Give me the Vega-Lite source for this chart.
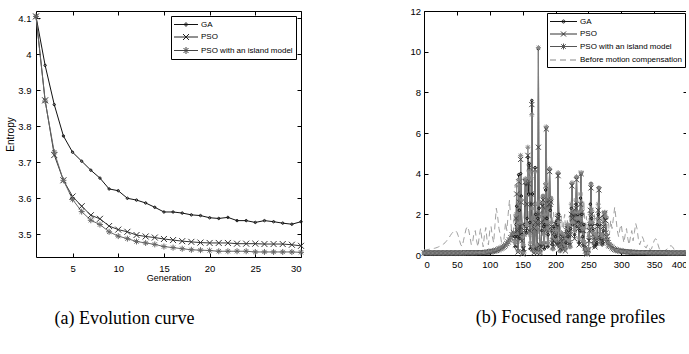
{
"$schema": "https://vega.github.io/schema/vega-lite/v6.json",
"padding": {"left": 5, "top": 5, "right": -7, "bottom": 5},
"bounds": "flush",
"spacing": 123,
"config": {
  "view": {"stroke": "#000", "strokeWidth": 1},
  "axis": {"domain": false, "grid": false, "tickSize": -4, "tickColor": "#000", "tickWidth": 1,
    "labelFont": "Liberation Sans", "labelFontSize": 9.5, "labelColor": "#000",
    "titleFont": "Liberation Sans", "titleFontSize": 9, "titleFontWeight": "normal", "titleColor": "#000"},
  "legend": {"labelFont": "Liberation Sans", "labelFontSize": 8, "labelColor": "#000",
    "padding": 3, "rowPadding": 2.5, "symbolStrokeWidth": 1, "strokeColor": "#000", "fillColor": "#fff", "cornerRadius": 0,
    "symbolSize": 100, "orient": "top-right"}
},
"hconcat": [
{
  "width": 265, "height": 246,
  "title": {"text": "(a) Evolution curve", "orient": "bottom", "offset": 27, "dx": -44, "font": "Liberation Serif", "fontSize": 18, "fontWeight": "normal", "color": "#000"},
  "data": {"values": [
    {"x":1,"g":4.105,"p":4.105,"i":4.105},
    {"x":2,"g":3.969,"p":3.872,"i":3.870},
    {"x":3,"g":3.860,"p":3.720,"i":3.728},
    {"x":4,"g":3.773,"p":3.650,"i":3.650},
    {"x":5,"g":3.728,"p":3.605,"i":3.597},
    {"x":6,"g":3.703,"p":3.578,"i":3.563},
    {"x":7,"g":3.678,"p":3.553,"i":3.539},
    {"x":8,"g":3.656,"p":3.543,"i":3.527},
    {"x":9,"g":3.626,"p":3.523,"i":3.507},
    {"x":10,"g":3.621,"p":3.513,"i":3.495},
    {"x":11,"g":3.600,"p":3.507,"i":3.488},
    {"x":12,"g":3.595,"p":3.498,"i":3.480},
    {"x":13,"g":3.587,"p":3.494,"i":3.476},
    {"x":14,"g":3.575,"p":3.491,"i":3.472},
    {"x":15,"g":3.562,"p":3.487,"i":3.466},
    {"x":16,"g":3.562,"p":3.484,"i":3.463},
    {"x":17,"g":3.559,"p":3.481,"i":3.460},
    {"x":18,"g":3.554,"p":3.479,"i":3.457},
    {"x":19,"g":3.552,"p":3.477,"i":3.456},
    {"x":20,"g":3.546,"p":3.476,"i":3.455},
    {"x":21,"g":3.544,"p":3.476,"i":3.453},
    {"x":22,"g":3.547,"p":3.476,"i":3.453},
    {"x":23,"g":3.538,"p":3.474,"i":3.453},
    {"x":24,"g":3.538,"p":3.474,"i":3.453},
    {"x":25,"g":3.533,"p":3.474,"i":3.451},
    {"x":26,"g":3.538,"p":3.473,"i":3.451},
    {"x":27,"g":3.535,"p":3.473,"i":3.451},
    {"x":28,"g":3.531,"p":3.473,"i":3.451},
    {"x":29,"g":3.528,"p":3.471,"i":3.451},
    {"x":30,"g":3.535,"p":3.468,"i":3.450}
  ]},
  "transform": [{"fold": ["g","p","i"], "as": ["s","v"]}],
  "layer": [
    {"mark": {"type": "line", "strokeWidth": 1},
     "encoding": {
       "x": {"field": "x", "type": "quantitative", "scale": {"domain": [1,30], "nice": false, "zero": false},
             "axis": {"orient": "bottom", "values": [5,10,15,20,25,30], "title": "Generation", "labelPadding": 10, "titlePadding": 1}},
       "y": {"field": "v", "type": "quantitative", "scale": {"domain": [3.437,4.12], "nice": false, "zero": false},
             "axis": {"orient": "left", "values": [3.5,3.6,3.7,3.8,3.9,4,4.1], "format": "~g", "title": "Entropy", "titleFontSize": 10, "labelPadding": 9, "titlePadding": 2}},
       "color": {"field": "s", "type": "nominal", "scale": {"domain": ["g","p","i"], "range": ["#111","#333","#666"]}, "legend": null}
     }},
    {"mark": {"type": "point", "filled": false, "strokeWidth": 1, "opacity": 1, "size": 36},
     "encoding": {
       "x": {"field": "x", "type": "quantitative", "axis": null},
       "y": {"field": "v", "type": "quantitative", "axis": null},
       "color": {"field": "s", "type": "nominal", "scale": {"domain": ["g","p","i"], "range": ["#111","#333","#666"]}, "legend": null},
       "shape": {"field": "s", "type": "nominal", "scale": {"domain": ["g","p","i"], "range": [
          "M-0.4,0a0.4,0.4 0 1,0 0.8,0a0.4,0.4 0 1,0 -0.8,0",
          "M-1,-1L1,1M-1,1L1,-1",
          "M-1,0H1M0,-1V1M-0.7,-0.7L0.7,0.7M-0.7,0.7L0.7,-0.7"]}, "legend": null}
     }},
    {"transform": [{"filter": "false"}],
     "mark": {"type": "point", "filled": false, "strokeWidth": 1, "opacity": 1},
     "encoding": {
       "x": {"field": "x", "type": "quantitative", "axis": {"orient": "top", "values": [5,10,15,20,25,30], "labels": false, "title": null}},
       "y": {"field": "v", "type": "quantitative", "axis": {"orient": "right", "values": [3.5,3.6,3.7,3.8,3.9,4,4.1], "labels": false, "title": null}},
       "color": {"field": "s", "type": "nominal", "scale": {"domain": ["g","p","i"], "range": ["#111","#222","#444"]},
          "legend": {"title": null, "offset": 5, "labelOffset": 16, "symbolSize": 100,
             "labelExpr": "datum.label == 'g' ? 'GA' : datum.label == 'p' ? 'PSO' : 'PSO with an island model'"}},
       "shape": {"field": "s", "type": "nominal", "scale": {"domain": ["g","p","i"], "range": [
          "M-1.1,0H3.7M1.0,0a0.3,0.3 0 1,0 0.6,0a0.3,0.3 0 1,0 -0.6,0",
          "M-1.1,0H3.7M0.7,-0.6L1.9,0.6M0.7,0.6L1.9,-0.6",
          "M-1.1,0H3.7M1.3,-0.7V0.7M0.8,-0.5L1.8,0.5M0.8,0.5L1.8,-0.5"]},
          "legend": {"title": null, "offset": 5, "labelOffset": 16, "symbolSize": 100,
             "labelExpr": "datum.label == 'g' ? 'GA' : datum.label == 'p' ? 'PSO' : 'PSO with an island model'"}}
     }}
  ],
  "resolve": {"scale": {"color": "independent", "shape": "independent"}, "axis": {"x": "independent", "y": "independent"}}
},
{
  "width": 263, "height": 244,
  "title": {"text": "(b) Focused range profiles", "orient": "bottom", "offset": 40, "dx": 15, "font": "Liberation Serif", "fontSize": 18, "fontWeight": "normal", "color": "#000"},
  "data": {"values": [
    {"x":0,"g":0.10,"p":0.10,"i":0.10,"b":0.25},
    {"x":2,"g":0.10,"p":0.10,"i":0.10,"b":0.25},
    {"x":4,"g":0.10,"p":0.10,"i":0.10,"b":0.26},
    {"x":6,"g":0.10,"p":0.10,"i":0.10,"b":0.27},
    {"x":8,"g":0.10,"p":0.10,"i":0.10,"b":0.28},
    {"x":10,"g":0.10,"p":0.10,"i":0.10,"b":0.30},
    {"x":12,"g":0.10,"p":0.10,"i":0.10,"b":0.30},
    {"x":14,"g":0.10,"p":0.10,"i":0.10,"b":0.32},
    {"x":16,"g":0.10,"p":0.10,"i":0.10,"b":0.33},
    {"x":18,"g":0.10,"p":0.10,"i":0.10,"b":0.35},
    {"x":20,"g":0.10,"p":0.10,"i":0.10,"b":0.37},
    {"x":22,"g":0.10,"p":0.10,"i":0.10,"b":0.40},
    {"x":24,"g":0.10,"p":0.10,"i":0.10,"b":0.43},
    {"x":26,"g":0.10,"p":0.10,"i":0.10,"b":0.45},
    {"x":28,"g":0.10,"p":0.10,"i":0.10,"b":0.50},
    {"x":30,"g":0.10,"p":0.10,"i":0.10,"b":0.55},
    {"x":32,"g":0.10,"p":0.10,"i":0.10,"b":0.60},
    {"x":34,"g":0.10,"p":0.10,"i":0.10,"b":0.68},
    {"x":36,"g":0.10,"p":0.10,"i":0.10,"b":0.76},
    {"x":38,"g":0.10,"p":0.10,"i":0.10,"b":0.85},
    {"x":40,"g":0.10,"p":0.10,"i":0.10,"b":0.95},
    {"x":42,"g":0.10,"p":0.10,"i":0.10,"b":1.05},
    {"x":44,"g":0.10,"p":0.10,"i":0.10,"b":1.12},
    {"x":46,"g":0.10,"p":0.10,"i":0.10,"b":1.18},
    {"x":48,"g":0.10,"p":0.10,"i":0.10,"b":1.20},
    {"x":50,"g":0.10,"p":0.10,"i":0.10,"b":1.12},
    {"x":52,"g":0.10,"p":0.10,"i":0.10,"b":0.95},
    {"x":54,"g":0.10,"p":0.10,"i":0.10,"b":0.72},
    {"x":56,"g":0.10,"p":0.10,"i":0.10,"b":0.50},
    {"x":58,"g":0.10,"p":0.10,"i":0.10,"b":0.42},
    {"x":60,"g":0.10,"p":0.10,"i":0.10,"b":0.70},
    {"x":62,"g":0.11,"p":0.11,"i":0.11,"b":1.00},
    {"x":64,"g":0.11,"p":0.11,"i":0.11,"b":1.28},
    {"x":66,"g":0.11,"p":0.11,"i":0.11,"b":1.40},
    {"x":68,"g":0.11,"p":0.11,"i":0.11,"b":1.22},
    {"x":70,"g":0.11,"p":0.11,"i":0.11,"b":0.88},
    {"x":72,"g":0.11,"p":0.11,"i":0.11,"b":0.50},
    {"x":74,"g":0.11,"p":0.11,"i":0.11,"b":0.62},
    {"x":76,"g":0.11,"p":0.11,"i":0.11,"b":1.10},
    {"x":78,"g":0.11,"p":0.11,"i":0.11,"b":1.20},
    {"x":80,"g":0.11,"p":0.11,"i":0.11,"b":0.70},
    {"x":82,"g":0.12,"p":0.12,"i":0.12,"b":0.40},
    {"x":84,"g":0.12,"p":0.12,"i":0.12,"b":0.90},
    {"x":86,"g":0.12,"p":0.12,"i":0.12,"b":1.30},
    {"x":88,"g":0.12,"p":0.12,"i":0.12,"b":0.80},
    {"x":90,"g":0.12,"p":0.12,"i":0.12,"b":0.40},
    {"x":92,"g":0.12,"p":0.12,"i":0.12,"b":1.00},
    {"x":94,"g":0.13,"p":0.13,"i":0.13,"b":1.35},
    {"x":96,"g":0.14,"p":0.14,"i":0.14,"b":0.70},
    {"x":98,"g":0.15,"p":0.15,"i":0.15,"b":0.50},
    {"x":100,"g":0.16,"p":0.16,"i":0.16,"b":1.20},
    {"x":102,"g":0.17,"p":0.17,"i":0.17,"b":1.40},
    {"x":104,"g":0.18,"p":0.18,"i":0.18,"b":0.90},
    {"x":106,"g":0.19,"p":0.19,"i":0.19,"b":0.60},
    {"x":108,"g":0.21,"p":0.21,"i":0.21,"b":1.50},
    {"x":110,"g":0.23,"p":0.23,"i":0.23,"b":2.30},
    {"x":112,"g":0.25,"p":0.25,"i":0.25,"b":1.90},
    {"x":114,"g":0.28,"p":0.28,"i":0.28,"b":1.30},
    {"x":116,"g":0.31,"p":0.31,"i":0.31,"b":1.00},
    {"x":118,"g":0.34,"p":0.34,"i":0.34,"b":0.60},
    {"x":120,"g":0.38,"p":0.38,"i":0.38,"b":0.35},
    {"x":122,"g":0.43,"p":0.43,"i":0.43,"b":0.90},
    {"x":124,"g":0.49,"p":0.49,"i":0.49,"b":1.60},
    {"x":126,"g":0.56,"p":0.56,"i":0.56,"b":1.20},
    {"x":128,"g":0.64,"p":0.64,"i":0.64,"b":2.00},
    {"x":130,"g":0.74,"p":0.74,"i":0.74,"b":2.70},
    {"x":132,"g":0.86,"p":0.86,"i":0.86,"b":1.70},
    {"x":134,"g":1.00,"p":1.00,"i":1.00,"b":0.80},
    {"x":136,"g":1.1,"p":1.1,"i":1.1,"b":1.2},
    {"x":137,"g":1.0,"p":1.05,"i":1.0,"b":1.8},
    {"x":138,"g":0.9,"p":0.8,"i":0.7,"b":2.0},
    {"x":139,"g":0.4,"p":0.5,"i":0.6,"b":1.3},
    {"x":140,"g":1.5,"p":1.8,"i":2.0,"b":0.7},
    {"x":141,"g":2.4,"p":3.0,"i":3.4,"b":1.0},
    {"x":142,"g":0.9,"p":1.2,"i":1.5,"b":1.6},
    {"x":143,"g":0.2,"p":0.15,"i":0.2,"b":1.9},
    {"x":144,"g":3.95,"p":3.6,"i":3.7,"b":1.2},
    {"x":145,"g":2.2,"p":2.6,"i":2.5,"b":0.6},
    {"x":146,"g":0.8,"p":1.4,"i":1.6,"b":0.9},
    {"x":147,"g":4.0,"p":4.7,"i":4.9,"b":1.5},
    {"x":148,"g":2.9,"p":2.6,"i":2.7,"b":2.0},
    {"x":149,"g":1.0,"p":0.7,"i":0.9,"b":1.4},
    {"x":150,"g":0.1,"p":0.05,"i":0.15,"b":0.8},
    {"x":151,"g":0.4,"p":0.3,"i":0.5,"b":1.2},
    {"x":152,"g":0.2,"p":0.1,"i":0.1,"b":1.8},
    {"x":153,"g":1.5,"p":1.2,"i":1.0,"b":2.2},
    {"x":154,"g":3.7,"p":3.6,"i":3.75,"b":1.5},
    {"x":155,"g":3.5,"p":3.6,"i":3.6,"b":0.9},
    {"x":156,"g":1.1,"p":1.3,"i":1.5,"b":1.3},
    {"x":157,"g":1.8,"p":2.5,"i":3.0,"b":2.0},
    {"x":158,"g":4.8,"p":4.9,"i":5.3,"b":2.4},
    {"x":159,"g":3.0,"p":3.5,"i":3.8,"b":1.6},
    {"x":160,"g":4.5,"p":4.3,"i":4.1,"b":1.0},
    {"x":161,"g":1.6,"p":1.2,"i":1.0,"b":1.5},
    {"x":162,"g":0.3,"p":0.4,"i":0.6,"b":2.2},
    {"x":163,"g":2.5,"p":3.0,"i":3.8,"b":2.5},
    {"x":164,"g":7.6,"p":7.4,"i":6.9,"b":1.7},
    {"x":165,"g":3.0,"p":2.5,"i":2.3,"b":1.0},
    {"x":166,"g":0.2,"p":0.3,"i":0.4,"b":1.4},
    {"x":167,"g":0.15,"p":0.1,"i":0.2,"b":2.0},
    {"x":168,"g":1.5,"p":1.3,"i":1.6,"b":2.3},
    {"x":169,"g":4.3,"p":4.2,"i":4.1,"b":1.5},
    {"x":170,"g":2.0,"p":1.6,"i":1.4,"b":0.9},
    {"x":171,"g":0.3,"p":0.4,"i":0.5,"b":1.3},
    {"x":172,"g":0.2,"p":0.1,"i":0.15,"b":1.9},
    {"x":173,"g":1.8,"p":1.5,"i":2.5,"b":2.1},
    {"x":174,"g":10.15,"p":5.3,"i":10.2,"b":1.4},
    {"x":175,"g":2.3,"p":2.0,"i":2.6,"b":0.8},
    {"x":176,"g":0.4,"p":0.5,"i":0.3,"b":1.2},
    {"x":177,"g":0.2,"p":0.1,"i":0.15,"b":1.8},
    {"x":178,"g":0.5,"p":0.4,"i":0.6,"b":2.2},
    {"x":179,"g":1.2,"p":1.6,"i":1.9,"b":1.6},
    {"x":180,"g":2.5,"p":2.4,"i":2.6,"b":1.0},
    {"x":181,"g":2.9,"p":2.7,"i":2.9,"b":1.4},
    {"x":182,"g":1.4,"p":1.1,"i":1.0,"b":2.0},
    {"x":183,"g":0.3,"p":0.5,"i":0.6,"b":2.4},
    {"x":184,"g":1.5,"p":1.8,"i":2.0,"b":1.7},
    {"x":185,"g":3.2,"p":3.4,"i":3.5,"b":1.1},
    {"x":186,"g":6.25,"p":6.2,"i":6.3,"b":1.6},
    {"x":187,"g":1.8,"p":1.5,"i":1.6,"b":2.3},
    {"x":188,"g":0.4,"p":0.5,"i":0.6,"b":2.8},
    {"x":189,"g":1.0,"p":1.2,"i":1.3,"b":1.9},
    {"x":190,"g":2.6,"p":2.5,"i":2.2,"b":1.2},
    {"x":191,"g":4.2,"p":4.1,"i":4.25,"b":1.5},
    {"x":192,"g":2.2,"p":2.5,"i":2.6,"b":2.0},
    {"x":193,"g":2.8,"p":2.6,"i":2.8,"b":1.7},
    {"x":194,"g":1.2,"p":1.4,"i":1.6,"b":1.1},
    {"x":195,"g":0.5,"p":0.6,"i":0.8,"b":1.4},
    {"x":196,"g":0.3,"p":0.4,"i":0.3,"b":1.9},
    {"x":197,"g":0.8,"p":0.7,"i":0.9,"b":2.1},
    {"x":198,"g":1.4,"p":1.1,"i":1.2,"b":1.5},
    {"x":199,"g":0.7,"p":0.9,"i":0.8,"b":0.9},
    {"x":200,"g":0.9,"p":1.2,"i":1.5,"b":1.3},
    {"x":201,"g":1.6,"p":1.5,"i":1.2,"b":1.8},
    {"x":202,"g":0.6,"p":0.5,"i":0.7,"b":1.6},
    {"x":203,"g":1.5,"p":1.8,"i":2.0,"b":1.0},
    {"x":204,"g":4.0,"p":3.9,"i":4.05,"b":1.5},
    {"x":205,"g":2.0,"p":1.8,"i":1.6,"b":2.0},
    {"x":206,"g":0.5,"p":0.6,"i":0.4,"b":1.7},
    {"x":207,"g":0.2,"p":0.3,"i":0.2,"b":1.1},
    {"x":208,"g":0.6,"p":0.5,"i":0.7,"b":1.4},
    {"x":209,"g":1.0,"p":0.8,"i":1.1,"b":1.9},
    {"x":210,"g":0.6,"p":0.4,"i":0.5,"b":1.6},
    {"x":211,"g":0.3,"p":0.3,"i":0.4,"b":1.0},
    {"x":212,"g":0.5,"p":0.6,"i":0.6,"b":1.3},
    {"x":213,"g":0.9,"p":0.8,"i":1.0,"b":1.8},
    {"x":214,"g":0.4,"p":0.5,"i":0.5,"b":2.0},
    {"x":215,"g":0.3,"p":0.2,"i":0.3,"b":1.4},
    {"x":216,"g":0.6,"p":0.7,"i":0.8,"b":0.9},
    {"x":217,"g":1.1,"p":1.2,"i":1.3,"b":1.3},
    {"x":218,"g":1.4,"p":1.3,"i":1.5,"b":1.7},
    {"x":219,"g":0.9,"p":1.0,"i":1.1,"b":1.5},
    {"x":220,"g":1.2,"p":1.0,"i":1.3,"b":1.0},
    {"x":221,"g":0.5,"p":0.6,"i":0.7,"b":1.4},
    {"x":222,"g":0.4,"p":0.5,"i":0.4,"b":1.9},
    {"x":223,"g":1.3,"p":1.0,"i":1.5,"b":1.6},
    {"x":224,"g":2.3,"p":2.0,"i":2.5,"b":1.1},
    {"x":225,"g":3.5,"p":3.4,"i":3.55,"b":1.5},
    {"x":226,"g":1.5,"p":1.8,"i":1.6,"b":2.0},
    {"x":227,"g":2.0,"p":2.1,"i":2.2,"b":1.8},
    {"x":228,"g":2.05,"p":2.0,"i":2.1,"b":1.2},
    {"x":229,"g":1.0,"p":0.8,"i":1.2,"b":1.6},
    {"x":230,"g":2.1,"p":2.0,"i":2.1,"b":2.1},
    {"x":231,"g":2.5,"p":2.3,"i":2.7,"b":1.7},
    {"x":232,"g":3.8,"p":3.7,"i":3.85,"b":1.1},
    {"x":233,"g":1.4,"p":1.6,"i":1.8,"b":1.5},
    {"x":234,"g":2.0,"p":2.1,"i":2.1,"b":2.0},
    {"x":235,"g":1.6,"p":1.3,"i":1.5,"b":1.6},
    {"x":236,"g":0.6,"p":0.5,"i":0.8,"b":1.0},
    {"x":237,"g":1.2,"p":1.5,"i":1.8,"b":1.4},
    {"x":238,"g":2.8,"p":2.5,"i":3.0,"b":2.0},
    {"x":239,"g":4.0,"p":4.0,"i":4.05,"b":2.2},
    {"x":240,"g":2.0,"p":2.1,"i":2.2,"b":1.5},
    {"x":241,"g":0.9,"p":1.2,"i":1.3,"b":1.0},
    {"x":242,"g":0.5,"p":0.6,"i":0.7,"b":1.8},
    {"x":243,"g":1.5,"p":1.2,"i":1.3,"b":2.7},
    {"x":244,"g":0.4,"p":0.5,"i":0.6,"b":2.0},
    {"x":245,"g":0.3,"p":0.35,"i":0.3,"b":1.2},
    {"x":246,"g":0.15,"p":0.2,"i":0.2,"b":1.5},
    {"x":247,"g":0.05,"p":0.1,"i":0.08,"b":1.9},
    {"x":248,"g":0.03,"p":0.05,"i":0.05,"b":1.4},
    {"x":249,"g":0.1,"p":0.08,"i":0.1,"b":0.9},
    {"x":250,"g":0.3,"p":0.25,"i":0.3,"b":1.3},
    {"x":251,"g":0.8,"p":0.7,"i":0.9,"b":1.8},
    {"x":252,"g":1.5,"p":1.2,"i":1.6,"b":1.5},
    {"x":253,"g":2.5,"p":2.2,"i":2.0,"b":1.0},
    {"x":254,"g":3.5,"p":3.3,"i":3.5,"b":1.4},
    {"x":255,"g":1.8,"p":2.0,"i":2.2,"b":1.9},
    {"x":256,"g":1.5,"p":1.4,"i":1.6,"b":1.7},
    {"x":257,"g":1.2,"p":1.0,"i":1.1,"b":1.1},
    {"x":258,"g":0.6,"p":0.7,"i":0.8,"b":1.5},
    {"x":259,"g":0.4,"p":0.5,"i":0.5,"b":2.0},
    {"x":260,"g":0.5,"p":0.4,"i":0.6,"b":1.6},
    {"x":261,"g":0.8,"p":0.9,"i":1.0,"b":1.0},
    {"x":262,"g":0.5,"p":0.6,"i":0.7,"b":1.4},
    {"x":263,"g":0.6,"p":0.8,"i":0.9,"b":1.9},
    {"x":264,"g":1.5,"p":1.4,"i":1.8,"b":1.7},
    {"x":265,"g":2.0,"p":2.2,"i":2.5,"b":1.1},
    {"x":266,"g":3.3,"p":3.2,"i":3.3,"b":1.5},
    {"x":267,"g":1.5,"p":1.8,"i":1.6,"b":2.0},
    {"x":268,"g":0.9,"p":1.0,"i":0.8,"b":1.8},
    {"x":269,"g":0.6,"p":0.7,"i":0.6,"b":1.2},
    {"x":270,"g":0.8,"p":0.9,"i":1.0,"b":1.6},
    {"x":271,"g":0.5,"p":0.6,"i":0.6,"b":2.0},
    {"x":272,"g":0.6,"p":0.7,"i":0.9,"b":1.7},
    {"x":273,"g":1.2,"p":1.4,"i":1.6,"b":1.1},
    {"x":274,"g":1.9,"p":2.0,"i":2.05,"b":1.4},
    {"x":275,"g":2.1,"p":2.05,"i":2.1,"b":1.8},
    {"x":276,"g":1.8,"p":1.7,"i":1.9,"b":1.5},
    {"x":277,"g":1.0,"p":1.1,"i":1.0,"b":1.0},
    {"x":278,"g":0.8,"p":0.9,"i":0.8,"b":1.3},
    {"x":279,"g":0.7,"p":0.75,"i":0.7,"b":1.7},
    {"x":280,"g":0.65,"p":0.6,"i":0.6,"b":1.9},
    {"x":281,"g":0.55,"p":0.5,"i":0.55,"b":1.4},
    {"x":282,"g":0.5,"p":0.45,"i":0.5,"b":1.0},
    {"x":284,"g":0.42,"p":0.42,"i":0.42,"b":1.7},
    {"x":286,"g":0.36,"p":0.36,"i":0.36,"b":1.3},
    {"x":288,"g":0.31,"p":0.31,"i":0.31,"b":1.8},
    {"x":290,"g":0.28,"p":0.28,"i":0.28,"b":2.35},
    {"x":292,"g":0.25,"p":0.25,"i":0.25,"b":1.8},
    {"x":294,"g":0.23,"p":0.23,"i":0.23,"b":1.2},
    {"x":296,"g":0.21,"p":0.21,"i":0.21,"b":0.9},
    {"x":298,"g":0.20,"p":0.20,"i":0.20,"b":1.3},
    {"x":300,"g":0.19,"p":0.19,"i":0.19,"b":1.5},
    {"x":302,"g":0.18,"p":0.18,"i":0.18,"b":1.0},
    {"x":304,"g":0.17,"p":0.17,"i":0.17,"b":0.6},
    {"x":306,"g":0.16,"p":0.16,"i":0.16,"b":1.0},
    {"x":308,"g":0.16,"p":0.16,"i":0.16,"b":1.3},
    {"x":310,"g":0.15,"p":0.15,"i":0.15,"b":0.8},
    {"x":312,"g":0.15,"p":0.15,"i":0.15,"b":0.5},
    {"x":314,"g":0.14,"p":0.14,"i":0.14,"b":0.9},
    {"x":316,"g":0.14,"p":0.14,"i":0.14,"b":1.2},
    {"x":318,"g":0.13,"p":0.13,"i":0.13,"b":0.7},
    {"x":320,"g":0.13,"p":0.13,"i":0.13,"b":1.1},
    {"x":322,"g":0.12,"p":0.12,"i":0.12,"b":1.55},
    {"x":324,"g":0.12,"p":0.12,"i":0.12,"b":1.3},
    {"x":326,"g":0.12,"p":0.12,"i":0.12,"b":0.8},
    {"x":328,"g":0.12,"p":0.12,"i":0.12,"b":0.5},
    {"x":330,"g":0.12,"p":0.12,"i":0.12,"b":0.7},
    {"x":332,"g":0.12,"p":0.12,"i":0.12,"b":0.9},
    {"x":334,"g":0.12,"p":0.12,"i":0.12,"b":0.75},
    {"x":336,"g":0.12,"p":0.12,"i":0.12,"b":0.4},
    {"x":338,"g":0.12,"p":0.12,"i":0.12,"b":0.35},
    {"x":340,"g":0.12,"p":0.12,"i":0.12,"b":0.5},
    {"x":342,"g":0.11,"p":0.11,"i":0.11,"b":0.4},
    {"x":344,"g":0.11,"p":0.11,"i":0.11,"b":0.25},
    {"x":346,"g":0.11,"p":0.11,"i":0.11,"b":0.3},
    {"x":348,"g":0.11,"p":0.11,"i":0.11,"b":0.5},
    {"x":350,"g":0.11,"p":0.11,"i":0.11,"b":0.7},
    {"x":352,"g":0.11,"p":0.11,"i":0.11,"b":0.8},
    {"x":354,"g":0.11,"p":0.11,"i":0.11,"b":0.75},
    {"x":356,"g":0.11,"p":0.11,"i":0.11,"b":0.5},
    {"x":358,"g":0.11,"p":0.11,"i":0.11,"b":0.3},
    {"x":360,"g":0.11,"p":0.11,"i":0.11,"b":0.2},
    {"x":362,"g":0.11,"p":0.11,"i":0.11,"b":0.15},
    {"x":364,"g":0.11,"p":0.11,"i":0.11,"b":0.15},
    {"x":366,"g":0.11,"p":0.11,"i":0.11,"b":0.2},
    {"x":368,"g":0.11,"p":0.11,"i":0.11,"b":0.25},
    {"x":370,"g":0.11,"p":0.11,"i":0.11,"b":0.3},
    {"x":372,"g":0.10,"p":0.10,"i":0.10,"b":0.4},
    {"x":374,"g":0.10,"p":0.10,"i":0.10,"b":0.45},
    {"x":376,"g":0.10,"p":0.10,"i":0.10,"b":0.45},
    {"x":378,"g":0.10,"p":0.10,"i":0.10,"b":0.4},
    {"x":380,"g":0.10,"p":0.10,"i":0.10,"b":0.3},
    {"x":382,"g":0.10,"p":0.10,"i":0.10,"b":0.15},
    {"x":384,"g":0.10,"p":0.10,"i":0.10,"b":0.05},
    {"x":386,"g":0.10,"p":0.10,"i":0.10,"b":0.02},
    {"x":388,"g":0.10,"p":0.10,"i":0.10,"b":0.03},
    {"x":390,"g":0.10,"p":0.10,"i":0.10,"b":0.05},
    {"x":392,"g":0.10,"p":0.10,"i":0.10,"b":0.08},
    {"x":394,"g":0.10,"p":0.10,"i":0.10,"b":0.1},
    {"x":396,"g":0.10,"p":0.10,"i":0.10,"b":0.1},
    {"x":398,"g":0.10,"p":0.10,"i":0.10,"b":0.1},
    {"x":400,"g":0.10,"p":0.10,"i":0.10,"b":0.1}
  ]},
  "transform": [{"fold": ["b","g","p","i"], "as": ["s","v"]}],
  "layer": [
    {"mark": {"type": "line", "strokeWidth": 1},
     "encoding": {
       "x": {"field": "x", "type": "quantitative", "scale": {"domain": [0,400], "nice": false, "zero": false},
             "axis": {"orient": "bottom", "values": [0,50,100,150,200,250,300,350,400], "title": null, "labelPadding": 8.5}},
       "y": {"field": "v", "type": "quantitative", "scale": {"domain": [0,12], "nice": false},
             "axis": {"orient": "left", "values": [0,2,4,6,8,10,12], "title": null, "labelPadding": 7.5}},
       "color": {"field": "s", "type": "nominal", "scale": {"domain": ["g","p","i","b"], "range": ["#111","#444","#888","#a0a0a0"]}, "legend": null},
       "strokeDash": {"field": "s", "type": "nominal", "scale": {"domain": ["g","p","i","b"], "range": [[1,0],[1,0],[1,0],[6,4]]}, "legend": null}
     }},
    {"transform": [{"filter": "datum.s != 'b'"}],
     "mark": {"type": "point", "filled": false, "strokeWidth": 1, "opacity": 1, "size": 26},
     "encoding": {
       "x": {"field": "x", "type": "quantitative", "axis": null},
       "y": {"field": "v", "type": "quantitative", "axis": null},
       "color": {"field": "s", "type": "nominal", "scale": {"domain": ["g","p","i"], "range": ["#111","#444","#888"]}, "legend": null},
       "shape": {"field": "s", "type": "nominal", "scale": {"domain": ["g","p","i"], "range": [
          "M-0.5,0a0.5,0.5 0 1,0 1,0a0.5,0.5 0 1,0 -1,0",
          "M-1,-1L1,1M-1,1L1,-1",
          "M-1,0H1M0,-1V1M-0.7,-0.7L0.7,0.7M-0.7,0.7L0.7,-0.7"]}, "legend": null}
     }},
    {"transform": [{"filter": "false"}],
     "mark": {"type": "point", "filled": false, "strokeWidth": 1, "opacity": 1},
     "encoding": {
       "x": {"field": "x", "type": "quantitative", "axis": {"orient": "top", "values": [0,50,100,150,200,250,300,350,400], "labels": false, "title": null}},
       "y": {"field": "v", "type": "quantitative", "axis": {"orient": "right", "values": [0,2,4,6,8,10,12], "labels": false, "title": null}},
       "color": {"field": "s", "type": "nominal", "scale": {"domain": ["g","p","i","b"], "range": ["#111","#333","#555","#888"]},
          "legend": {"title": null, "offset": 2, "labelOffset": 19, "symbolSize": 100,
             "labelExpr": "datum.label == 'g' ? 'GA' : datum.label == 'p' ? 'PSO' : datum.label == 'i' ? 'PSO with an island model' : 'Before motion compensation'"}},
       "shape": {"field": "s", "type": "nominal", "scale": {"domain": ["g","p","i","b"], "range": [
          "M-1.1,0H4.3M1.3,0a0.3,0.3 0 1,0 0.6,0a0.3,0.3 0 1,0 -0.6,0",
          "M-1.1,0H4.3M1.1,-0.5L2.1,0.5M1.1,0.5L2.1,-0.5",
          "M-1.1,0H4.3M1.6,-0.6V0.6M1.0,0H2.2M1.15,-0.45L2.05,0.45M1.15,0.45L2.05,-0.45",
          "M-1.1,0H0.1M0.9,0H2.1M2.9,0H4.1"]},
          "legend": {"title": null, "offset": 2, "labelOffset": 19, "symbolSize": 100,
             "labelExpr": "datum.label == 'g' ? 'GA' : datum.label == 'p' ? 'PSO' : datum.label == 'i' ? 'PSO with an island model' : 'Before motion compensation'"}}
     }}
  ],
  "resolve": {"scale": {"color": "independent", "shape": "independent"}, "axis": {"x": "independent", "y": "independent"}}
}
]
}
